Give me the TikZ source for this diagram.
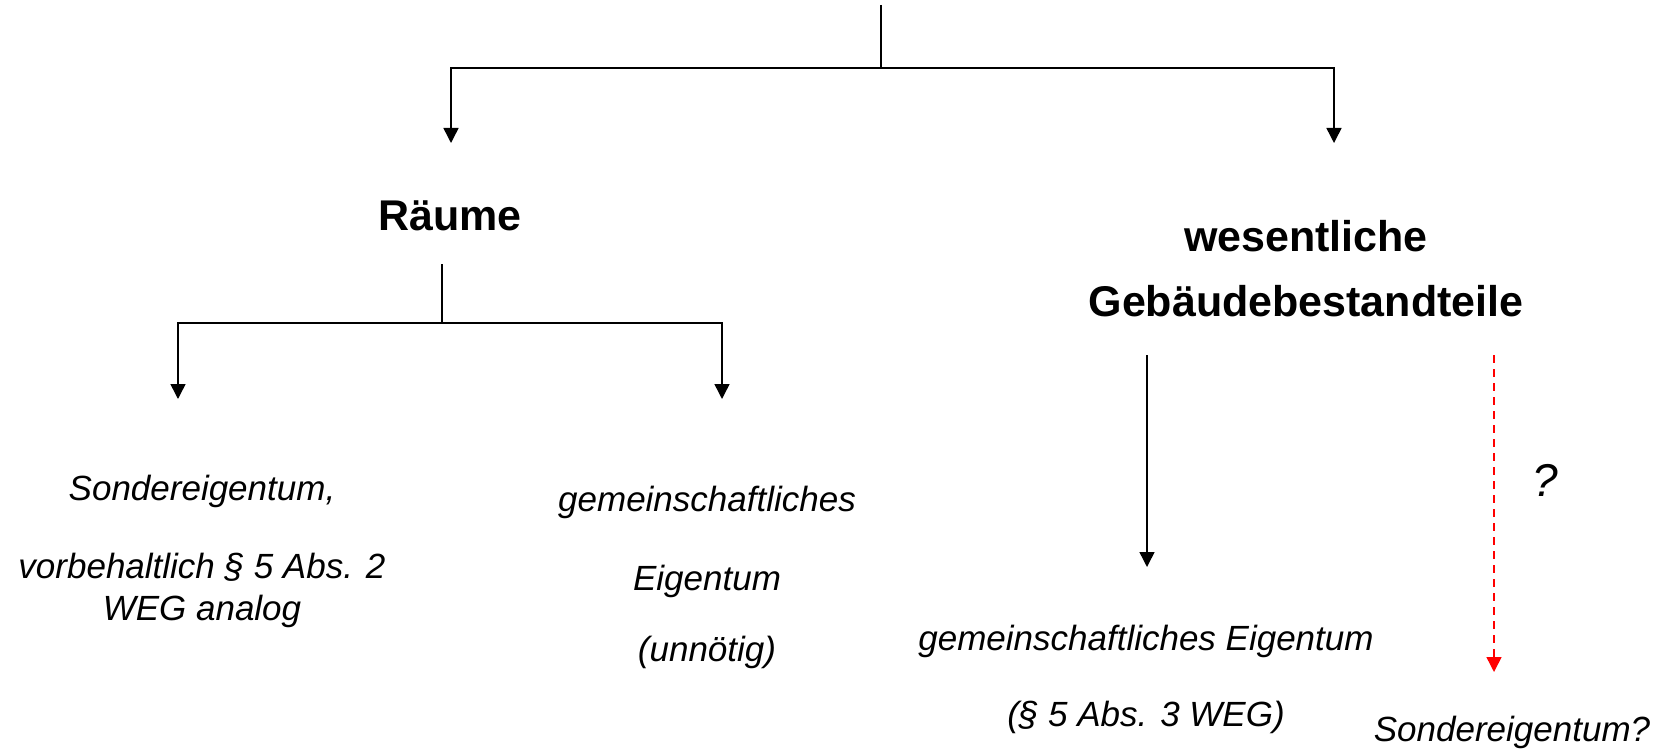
\documentclass[tikz,border=0pt]{standalone}
\usepackage{fontspec}
\setmainfont{Liberation Sans}
\usetikzlibrary{arrows.meta}
\begin{document}
\begin{tikzpicture}[x=1pt,y=-1pt,
  line/.style={line width=1.5pt},
  arr/.style={line, -{Triangle[width=15pt,length=15pt]}},
  redarr/.style={line width=1.5pt, red, dash pattern=on 8pt off 6pt, -{Triangle[width=15pt,length=15pt]}},
  hd/.style={font=\fontsize{43}{50}\selectfont\bfseries, anchor=base, inner sep=0pt},
  it/.style={font=\fontsize{35}{42}\selectfont\itshape, anchor=base, inner sep=0pt}]
\useasboundingbox (0,0) rectangle (1657,749);
% coordinates
\coordinate (top) at (881,5);
\coordinate (tj) at (881,68);
\coordinate (tl) at (451,68);
\coordinate (tr) at (1334,68);
\coordinate (tle) at (451,143);
\coordinate (tre) at (1334,143);
% headings
\node[hd] (raeume) at (450,230) {Räume};
\node[hd] (wes) at (1306,251) {wesentliche};
\node[hd] (geb) at (1306,316) {Gebäudebestandteile};
% left subtree
\coordinate (rs) at (442,264);
\coordinate (rj) at (442,323);
\coordinate (rl) at (178,323);
\coordinate (rr) at (722,323);
\coordinate (rle) at (178,399);
\coordinate (rre) at (722,399);
\node[it] (s1) at (202,500) {Sondereigentum,};
\node[it] (s2) at (202,578) {vorbehaltlich § 5 Abs. 2};
\node[it] (s3) at (202,620) {WEG analog};
\node[it] (g1) at (707,511) {gemeinschaftliches};
\node[it] (g2) at (707,590) {Eigentum};
\node[it] (g3) at (707,661) {(unnötig)};
% right subtree
\coordinate (bs) at (1147,355);
\coordinate (be) at (1147,567);
\coordinate (rds) at (1494,355);
\coordinate (rde) at (1494,672);
\node[it] (ge1) at (1146,650) {gemeinschaftliches Eigentum};
\node[it] (ge2) at (1146,726) {(§ 5 Abs. 3 WEG)};
\node[it, font=\fontsize{46}{52}\selectfont\itshape] (q) at (1545,496) {?};
\node[it] (so) at (1512,741) {Sondereigentum?};
% connectors
\draw[line] (top) -- (tj);
\draw[arr] (tj) -- (tl) -- (tle);
\draw[arr] (tj) -- (tr) -- (tre);
\draw[line] (rs) -- (rj);
\draw[arr] (rj) -- (rl) -- (rle);
\draw[arr] (rj) -- (rr) -- (rre);
\draw[arr] (bs) -- (be);
\draw[redarr] (rds) -- (rde);
\end{tikzpicture}
\end{document}
